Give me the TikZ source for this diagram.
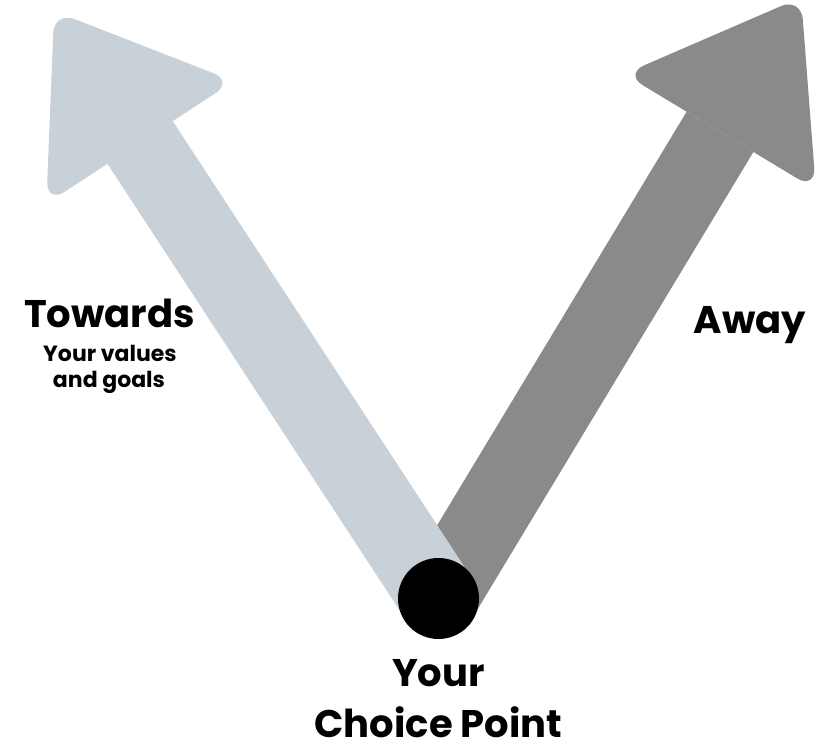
\documentclass[tikz,border=0pt]{standalone}
\usepackage{fontspec}
\setmainfont{Poppins}
\usetikzlibrary{calc}

\definecolor{towardsgray}{RGB}{200,208,216}
\definecolor{awaygray}{RGB}{138,138,138}

\tikzset{
    shaft/.style={line width=78pt},
    head/.style={rounded corners=22pt},
    bigword/.style={anchor=base, font=\fontsize{38.5}{42}\selectfont\bfseries},
    smallword/.style={anchor=base, font=\fontsize{22}{26}\selectfont\bfseries}
}

\begin{document}
\begin{tikzpicture}[x=1pt,y=1pt]

    \useasboundingbox (0,0) rectangle (818,744);

    % choice point
    \coordinate (choice) at (438.5,145.5);

    % --------------------------------------------------
    % AWAY ARROW (dark gray)
    % --------------------------------------------------
    \path (choice) ++(58.9:545) coordinate (awayBase);
    \path (choice) ++(58.9:702) coordinate (awayTip);
    \path (awayBase) ++(148.9:112) coordinate (awayL);
    \path (awayBase) ++(-31.1:112) coordinate (awayR);
    \draw[shaft, awaygray] (choice) -- (awayBase);
    \fill[head, awaygray] (awayTip) -- (awayL) -- (awayR) -- cycle;

    % --------------------------------------------------
    % TOWARDS ARROW (light blue gray)
    % --------------------------------------------------
    \path (choice) ++(123.2:545) coordinate (towardsBase);
    \path (choice) ++(123.2:702) coordinate (towardsTip);
    \path (towardsBase) ++(213.2:112) coordinate (towardsL);
    \path (towardsBase) ++(33.2:112) coordinate (towardsR);
    \draw[shaft, towardsgray] (choice) -- (towardsBase);
    \fill[head, towardsgray] (towardsTip) -- (towardsL) -- (towardsR) -- cycle;

    % dot
    \node[circle, fill=black, minimum size=81pt, inner sep=0pt] (dot) at (choice) {};

    % Labels
    \node[bigword] (towards) at (109.5,416) {Towards};
    \node[smallword] (values) at (110,382) {Your values};
    \node[smallword] (goals) at (109,356) {and goals};
    \node[bigword] (away) at (750,410) {Away};
    \node[bigword] (your) at (438.5,58) {Your};
    \node[bigword] (point) at (438.5,7) {Choice Point};

\end{tikzpicture}
\end{document}
